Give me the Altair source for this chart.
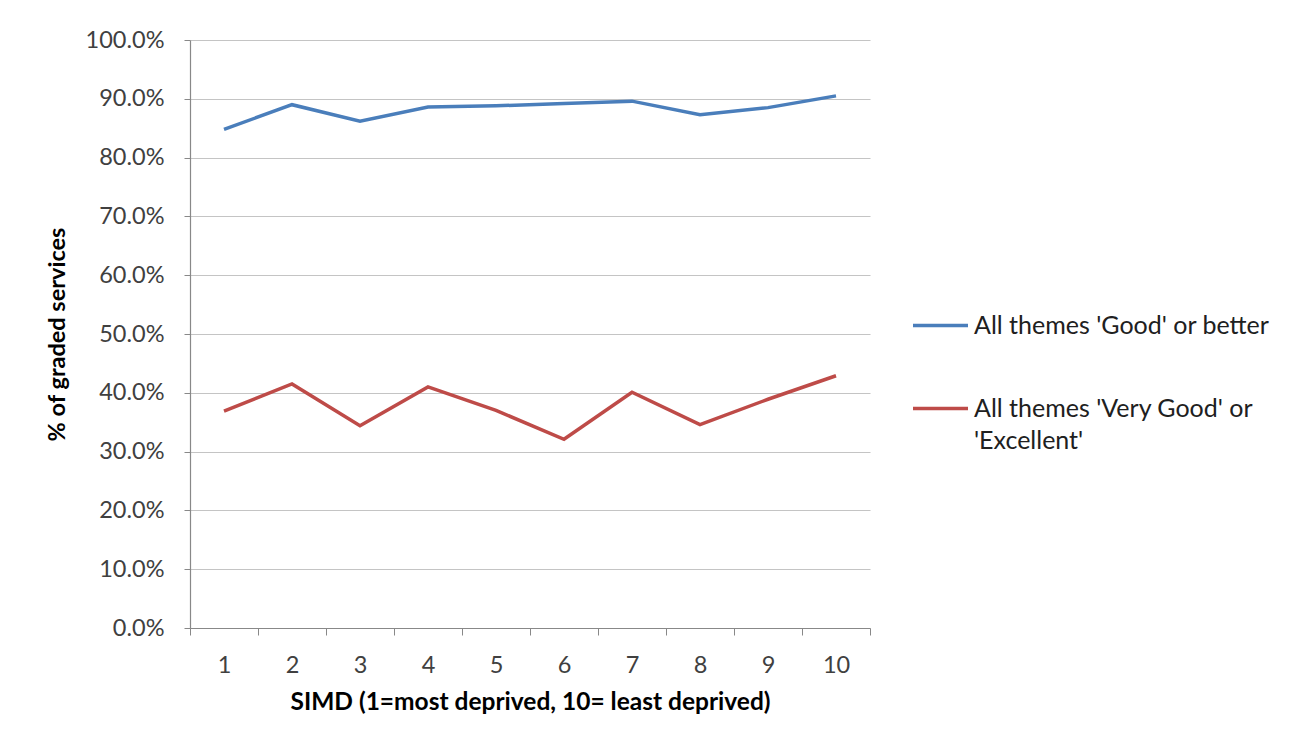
import altair as alt
import pandas as pd

simd = [1, 2, 3, 4, 5, 6, 7, 8, 9, 10]
good_or_better = [84.8, 89.0, 86.2, 88.6, 88.8, 89.2, 89.6, 87.3, 88.5, 90.5]
very_good_or_excellent = [36.9, 41.5, 34.4, 41.0, 37.0, 32.1, 40.1, 34.6, 38.9, 42.9]
series_names = ["All themes 'Good' or better", "All themes 'Very Good' or 'Excellent'"]
colors = ["#4A7EBB", "#BE4B48"]
y_ticks = [0, 10, 20, 30, 40, 50, 60, 70, 80, 90, 100]
x_tick_marks = [0.5, 1.5, 2.5, 3.5, 4.5, 5.5, 6.5, 7.5, 8.5, 9.5, 10.5]

rows = []
for s, v in zip(simd, good_or_better):
    rows.append({"SIMD": s, "series": series_names[0], "value": v / 100})
for s, v in zip(simd, very_good_or_excellent):
    rows.append({"SIMD": s, "series": series_names[1], "value": v / 100})
df = pd.DataFrame(rows)
ticks_df = pd.DataFrame({"t": x_tick_marks})

FONT = "Lato"
x_scale = alt.Scale(domain=[0.5, 10.5], nice=False, zero=False)

lines = alt.Chart(df).mark_line(strokeWidth=3.5).encode(
    x=alt.X("SIMD:Q", scale=x_scale,
            axis=alt.Axis(values=simd, format="d", tickSize=0, grid=False,
                          labelPadding=25, labelFontSize=23.5, labelColor="#404040",
                          labelFont=FONT, domainColor="#888888", domainWidth=1.2,
                          title="SIMD (1=most deprived, 10= least deprived)",
                          titleFont=FONT, titleFontSize=24.5, titleFontWeight="bold",
                          titleColor="#000000", titlePadding=14)),
    y=alt.Y("value:Q", scale=alt.Scale(domain=[0, 1], nice=False),
            axis=alt.Axis(values=[v / 100 for v in y_ticks], format=".1%",
                          tickSize=6, tickColor="#888888", labelPadding=20,
                          labelFontSize=23.5, labelColor="#404040", labelFont=FONT,
                          domainColor="#888888", domainWidth=1.2,
                          gridColor="#C4C4C4", gridWidth=1.2,
                          title="% of graded services", titleFont=FONT,
                          titleFontSize=23.5, titleFontWeight="bold",
                          titleColor="#000000", titlePadding=16)),
    color=alt.Color("series:N",
                    scale=alt.Scale(domain=series_names, range=colors),
                    legend=alt.Legend(title=None, orient="none", legendX=721, legendY=256,
                                      symbolType="stroke", symbolSize=3025,
                                      symbolStrokeWidth=3.5, labelFont=FONT,
                                      labelFontSize=25, labelColor="#202020",
                                      labelOffset=4, labelLimit=500, rowPadding=40,
                                      labelExpr="indexof(datum.label, 'Very') > 0 ? [substring(datum.label, 0, 25), substring(datum.label, 26)] : datum.label")),
)

tick_layer = alt.Chart(ticks_df).mark_rule(opacity=0).encode(
    x=alt.X("t:Q", scale=x_scale,
            axis=alt.Axis(values=x_tick_marks, labels=False, tickSize=7,
                          tickColor="#888888", domain=False, grid=False,
                          title=None, orient="bottom")),
)

chart = alt.layer(lines, tick_layer).resolve_axis(x="independent").properties(
    width=680, height=588,
    padding={"left": 37, "top": 20, "right": 10, "bottom": 10},
).configure(
    view=alt.ViewConfig(stroke="transparent"),
    style={"guide-label": {"lineHeight": 32}},
)

chart.save("out.html", embed_options={"renderer": "svg", "actions": False})
